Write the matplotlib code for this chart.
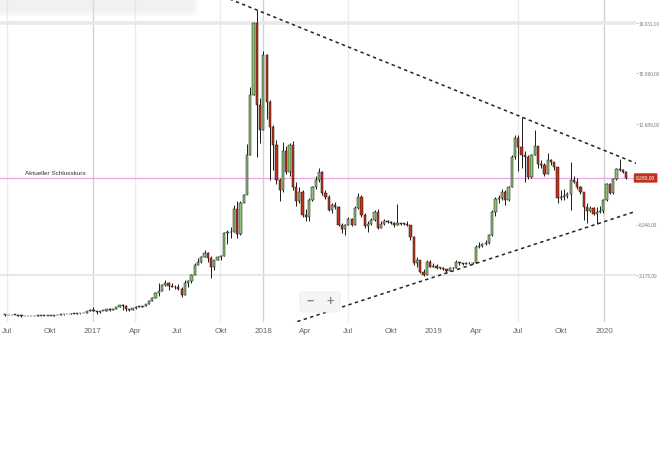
import matplotlib
matplotlib.use("Agg")
import matplotlib.pyplot as plt
import matplotlib.dates as mdates
import matplotlib.transforms as mtransforms
from matplotlib.patches import FancyBboxPatch, Rectangle
import numpy as np
import pandas as pd

plt.rcParams["font.family"] = ["Liberation Sans Narrow", "Liberation Sans", "DejaVu Sans"]

# weekly candles, open = previous close
first_open = 660
closes = [
    # 2016
    675, 640, 665, 655, 620, 590, 570, 580, 570, 605, 610, 610, 600, 610,
    615, 640, 655, 700, 705, 700, 740, 735, 765, 775, 790, 900, 1000,
    # 2017
    900, 820, 920, 920, 1020, 1000, 1050, 1180, 1270, 1230, 1020, 960, 1080,
    1190, 1180, 1240, 1350, 1560, 1730, 2050, 2150, 2550, 2680, 2500, 2450, 2400,
    2300, 1920, 2670, 2800, 3175, 3800, 4000, 4300, 4560, 4250, 3680, 4120, 4300,
    4400, 5800, 5850, 5900, 7300, 5750, 7700, 8200, 10700, 14500, 19030, 13870, 12300,
    # 2018
    17000, 14060, 12500, 11350, 9150, 8520, 11000, 9650, 11350, 8700, 7800, 8400, 6950,
    6850, 7890, 8700, 9150, 9650, 8330, 8080, 7265, 7580, 7450, 6320, 6070, 6320,
    6700, 6320, 7400, 8100, 6950, 6250, 6400, 6640, 7140, 6130, 6380, 6560, 6500,
    6450, 6300, 6420, 6400, 6380, 6320, 5570, 3930, 4120, 3360, 3175, 3990, 3700, 3740,
    # 2019
    3620, 3640, 3560, 3430, 3620, 3600, 3990, 3900, 3880, 3950, 3900, 3930,
    4940, 5000, 5100, 5190, 5690, 7140, 7950, 8050, 8400, 7890, 8700, 10600, 11800,
    11250, 10725, 10600, 9340, 10725, 11290, 10160, 10100, 9530, 10410, 10300, 9970, 8020, 8080,
    8150, 8250, 9150, 9050, 8700, 8400, 7450, 7200, 7400, 7030, 7130, 7200, 7890,
    # 2020
    8900, 8330, 9210, 9840, 9780, 9650, 9280,
]
highs = [
    700, 680, 675, 680, 660, 630, 600, 590, 590, 615, 630, 615, 610, 615,
    620, 645, 660, 720, 740, 720, 755, 750, 775, 780, 795, 920, 1030,
    1150, 920, 930, 925, 1030, 1070, 1060, 1190, 1290, 1330, 1260, 1060, 1100,
    1210, 1210, 1250, 1360, 1620, 1800, 2100, 2670, 2600, 2850, 2750, 2700, 2550,
    2600, 2450, 2850, 2850, 3250, 3930, 4250, 4400, 4750, 4620, 4350, 4150, 4400,
    4450, 5850, 6000, 6200, 7600, 7800, 7800, 8300, 11400, 15000, 19100, 19849, 14300,
    17300, 17100, 14200, 12600, 11700, 9300, 11550, 11300, 11500, 11600, 9000, 8700, 8500,
    7300, 8000, 8800, 9400, 9900, 9700, 8500, 8200, 7700, 7750, 7500, 6450, 6400,
    6800, 6750, 7500, 8340, 8200, 7100, 6550, 6750, 7250, 7300, 6550, 6700, 6650,
    6600, 6500, 7640, 6450, 6450, 6550, 6350, 5600, 4300, 4150, 3550, 4150, 4100, 3900,
    3850, 3700, 3650, 3560, 3650, 3680, 4150, 4000, 3950, 4000, 4000, 4000,
    5050, 5250, 5200, 5350, 5750, 7250, 8080, 8200, 8600, 8520, 8800, 10700, 12000,
    12000, 13116, 11000, 10700, 10800, 12300, 11300, 10400, 10200, 10850, 10500, 10300, 10000, 8500,
    8600, 8400, 10285, 9400, 9300, 8800, 8400, 7700, 7500, 7450, 7450, 7500, 7950,
    8950, 8950, 9300, 9900, 10470, 9850, 9700,
]
lows = [
    610, 630, 640, 650, 605, 520, 565, 565, 565, 565, 600, 600, 590, 595,
    605, 612, 630, 650, 680, 690, 690, 725, 730, 750, 760, 790, 890,
    880, 750, 810, 880, 915, 940, 990, 1040, 1180, 980, 940, 890, 950,
    1060, 1150, 1170, 1240, 1380, 1540, 1710, 1850, 2150, 2500, 2200, 2400, 2300,
    2250, 1800, 1900, 2450, 2700, 3150, 3800, 3950, 4300, 4000, 2990, 3500, 4100,
    4150, 4400, 5150, 5500, 5850, 5500, 5700, 7700, 8500, 10700, 14500, 10600, 11480,
    12300, 13000, 9150, 9800, 8900, 7800, 8400, 9500, 9400, 8500, 7500, 7700, 6800,
    6600, 6600, 7800, 8600, 9000, 8200, 7950, 7200, 7100, 7350, 6250, 5800, 5700,
    6300, 6250, 6300, 7350, 6850, 6150, 5900, 6300, 6600, 6100, 6150, 6300, 6450,
    6400, 6200, 6300, 6350, 6300, 6250, 5400, 3800, 3700, 3300, 3110, 3175, 3650, 3650,
    3550, 3550, 3500, 3300, 3400, 3560, 3600, 3800, 3800, 3850, 3850, 3880,
    3900, 4900, 4950, 5050, 5150, 5650, 6900, 7700, 7900, 7600, 7800, 8700, 10500,
    9700, 9900, 9000, 9200, 9300, 10700, 9900, 9900, 9400, 9500, 10100, 9800, 7700, 7900,
    7900, 8000, 7265, 8950, 8600, 8300, 6650, 6450, 7150, 6950, 6380, 7050, 7100,
    7800, 8250, 8250, 9150, 9700, 9600, 9200,
]
weeks = pd.date_range("2016-06-27", periods=len(closes), freq="7D")

tick_dates = ["2016-07-01", "2016-10-01", "2017-01-01", "2017-04-01", "2017-07-01",
              "2017-10-01", "2018-01-01", "2018-04-01", "2018-07-01", "2018-10-01",
              "2019-01-01", "2019-04-01", "2019-07-01", "2019-10-01", "2020-01-01"]
tick_labels = ["Jul", "Okt", "2017", "Apr", "Jul", "Okt", "2018", "Apr", "Jul", "Okt",
               "2019", "Apr", "Jul", "Okt", "2020"]
light_grid = ["2016-07-01", "2017-04-01", "2017-10-01", "2018-07-01", "2019-07-01"]
year_grid = ["2017-01-01", "2018-01-01", "2020-01-01"]

price_ticks = [3175, 6346, 12689, 15860, 19031]

# trend lines through two highs / two lows
upper_dates = ["2017-12-18", "2019-07-08"]
upper_prices = [19849, 13116]
lower_dates = ["2019-01-28", "2019-12-16"]
lower_prices = [3300, 6380]


def de_fmt(v):
    return f"{v:,.2f}".replace(",", "X").replace(".", ",").replace("X", ".")


W, H = 661, 463
fig = plt.figure(figsize=(W / 100, H / 100), dpi=100)
ax = fig.add_axes([0, 1 - 322 / H, 636 / W, 322 / H])
for s in ax.spines.values():
    s.set_visible(False)

x0 = mdates.date2num(pd.Timestamp("2016-06-16"))
x1 = mdates.date2num(pd.Timestamp("2020-03-09"))
ax.set_xlim(x0, x1)
ax.set_ylim(218, 20478)

for d in light_grid:
    ax.axvline(mdates.date2num(pd.Timestamp(d)), color="#ebebeb", lw=1.0, zorder=0)
for d in year_grid:
    ax.axvline(mdates.date2num(pd.Timestamp(d)), color="#d2d2d2", lw=1.0, zorder=0)
ax.axhline(price_ticks[-1], color="#e9e9e9", lw=2.6, zorder=0)
ax.axhline(price_ticks[0], color="#e4e4e4", lw=1.2, zorder=0)

# candles
xs = mdates.date2num(weeks)
o = np.array([first_open] + closes[:-1], dtype=float)
c = np.array(closes, dtype=float)
h = np.array(highs, dtype=float)
l = np.array(lows, dtype=float)
up = c >= o
cols = np.where(up, "#8cc473", "#c2341b")
ax.vlines(xs, l, h, color="#1a1a1a", lw=0.7, zorder=2)
ax.bar(xs, np.maximum(np.abs(c - o), 40), bottom=np.minimum(o, c), width=4.8,
       color=cols, edgecolor="#111111", linewidth=0.35, zorder=3)

# current close line
last = closes[-1]
ax.axhline(last, xmin=0, xmax=633 / 636, color="#eba6ea", lw=0.9, zorder=1)
ax.text(25 / 636, last + 120, "Aktueller Schlusskurs", fontsize=4.6, color="#333333",
        transform=mtransforms.blended_transform_factory(ax.transAxes, ax.transData),
        va="bottom", ha="left")
ax.text(1.0, last, de_fmt(last), fontsize=3.5, color="white", va="center", ha="left",
        transform=mtransforms.blended_transform_factory(ax.transAxes, ax.transData),
        bbox=dict(boxstyle="round,pad=0.45,rounding_size=0.2", fc="#c0311b", ec="none"),
        clip_on=False, zorder=5)

# trend lines
for dts, prs in [(upper_dates, upper_prices), (lower_dates, lower_prices)]:
    dn = mdates.date2num(pd.to_datetime(dts))
    slope = (prs[1] - prs[0]) / (dn[1] - dn[0])
    start = x0 + 100 if prs[1] < prs[0] else mdates.date2num(pd.Timestamp("2018-03-01"))
    xx = np.array([start, x1])
    ax.plot(xx, prs[0] + slope * (xx - dn[0]), color="#222222", lw=1.1,
            linestyle=(0, (2.2, 2.2)), zorder=4)

ax.yaxis.tick_right()
ax.set_yticks(price_ticks)
ax.set_yticklabels([de_fmt(v) for v in price_ticks])
ax.tick_params(axis="y", length=1.5, width=0.6, color="#aaaaaa", labelsize=3.4,
               labelcolor="#777777", pad=0.5)
ax.set_xticks(mdates.date2num(pd.to_datetime(tick_dates)))
ax.set_xticklabels(tick_labels)
ax.tick_params(axis="x", length=0, labelsize=5.8, labelcolor="#666666", pad=4)

# faded toolbar at the top
for i in range(8):
    fig.add_artist(Rectangle(((-4 - i) / W, 1 - (10 + i) / H), (196 + 2 * i) / W, (20 + i) / H,
                             transform=fig.transFigure, fc="#e6e6e6", ec="none", alpha=0.07))

# zoom control
fig.add_artist(FancyBboxPatch((300 / W, 1 - 312 / H), 40 / W, 20 / H, transform=fig.transFigure,
                              boxstyle="round,pad=0,rounding_size=0.004", fc="#f5f5f5", ec="#ececec", lw=0.6))
fig.text(310 / W, 1 - 302 / H, "\u2212", fontsize=9, color="#8a8a8a", ha="center", va="center", weight="bold")
fig.text(330 / W, 1 - 302 / H, "+", fontsize=9, color="#8a8a8a", ha="center", va="center", weight="bold")

fig.savefig("out.png", dpi=100)
